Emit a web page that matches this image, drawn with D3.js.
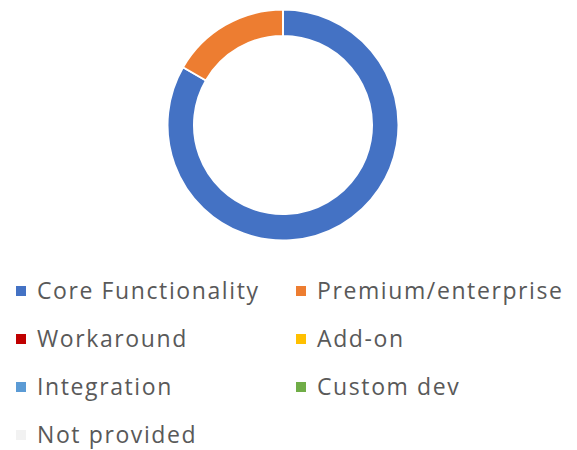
<!DOCTYPE html>
<html>
<head>
<meta charset="utf-8">
<script src="https://d3js.org/d3.v7.min.js"></script>
<style>
body { margin: 0; background: #fff; }
</style>
</head>
<body>
<div id="chart"></div>
<script>

var width = 577, height = 450;

// data
var categories = ["Core Functionality", "Premium/enterprise", "Workaround", "Add-on", "Integration", "Custom dev", "Not provided"];
var values = [10, 2, 0, 0, 0, 0, 0];
var colors = ["#4472C4", "#ED7D31", "#C00000", "#FFC000", "#5B9BD5", "#70AD47", "#F2F2F2"];

var svg = d3.select("#chart")
  .append("svg")
    .attr("width", width)
    .attr("height", height);

var color = d3.scaleOrdinal().domain(categories).range(colors);

var pie = d3.pie().sort(null).value(function(d, i){ return values[i]; });
var arc = d3.arc().innerRadius(89).outerRadius(115.5);

// donut
svg.append("g")
    .attr("transform", "translate(283,125)")
  .selectAll("path")
  .data(pie(categories))
  .enter()
  .append("path")
    .attr("d", arc)
    .attr("fill", function(d){ return color(d.data); })
    .attr("stroke", "#fff")
    .attr("stroke-width", 2);

// legend, two columns
var colX = [16, 296], rowY0 = 291, rowH = 48;
var legend = svg.selectAll("g.legend")
  .data(categories)
  .enter().append("g")
    .attr("class", "legend")
    .attr("transform", function(d, i){
      return "translate(" + colX[i % 2] + "," + (rowY0 + Math.floor(i / 2) * rowH) + ")";
    });

legend.append("rect")
    .attr("x", 0)
    .attr("y", -5)
    .attr("width", 10)
    .attr("height", 10)
    .attr("fill", function(d){ return color(d); });

legend.append("text")
    .attr("x", 21)
    .attr("y", 8)
    .attr("font-family", "Open Sans")
    .attr("font-size", "23px")
    .attr("letter-spacing", "1.6px")
    .attr("fill", "#595959")
    .text(function(d){ return d; });

</script>
</body>
</html>
